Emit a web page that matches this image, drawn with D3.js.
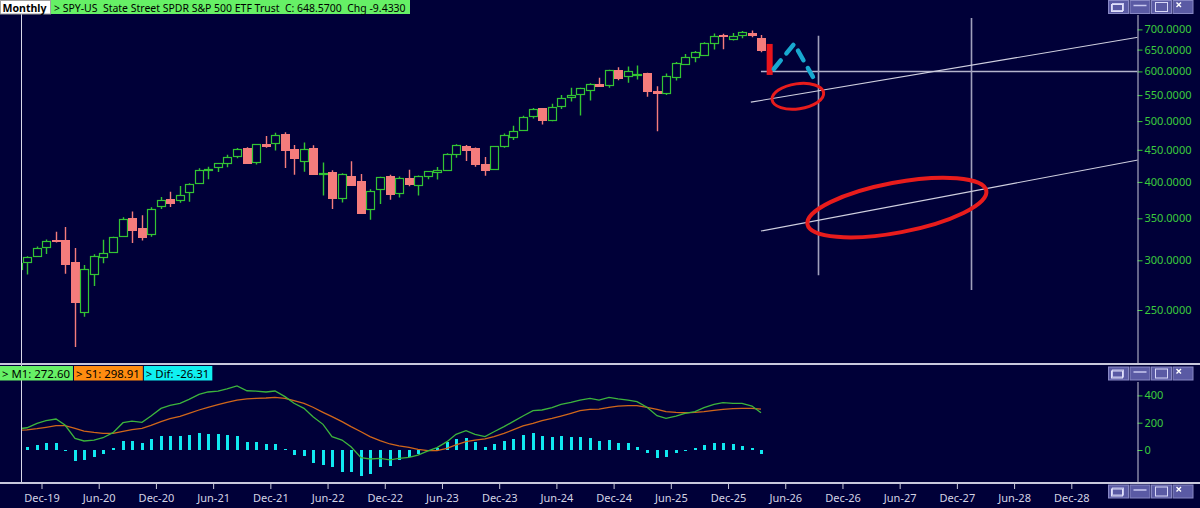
<!DOCTYPE html>
<html><head><meta charset="utf-8">
<script src="https://cdn.jsdelivr.net/npm/d3@7"></script>
<style>html,body{margin:0;padding:0;background:#000038;overflow:hidden} text{white-space:pre}</style>
</head><body><svg id="c" width="1200" height="508"></svg>
<script>
// ---------------- DATA ----------------
const months = ["2019-09","2019-10","2019-11","2019-12",
"2020-01","2020-02","2020-03","2020-04","2020-05","2020-06","2020-07","2020-08","2020-09","2020-10","2020-11","2020-12",
"2021-01","2021-02","2021-03","2021-04","2021-05","2021-06","2021-07","2021-08","2021-09","2021-10","2021-11","2021-12",
"2022-01","2022-02","2022-03","2022-04","2022-05","2022-06","2022-07","2022-08","2022-09","2022-10","2022-11","2022-12",
"2023-01","2023-02","2023-03","2023-04","2023-05","2023-06","2023-07","2023-08","2023-09","2023-10","2023-11","2023-12",
"2024-01","2024-02","2024-03","2024-04","2024-05","2024-06","2024-07","2024-08","2024-09","2024-10","2024-11","2024-12",
"2025-01","2025-02","2025-03","2025-04","2025-05","2025-06","2025-07","2025-08","2025-09","2025-10","2025-11","2025-12",
"2026-01","2026-02","2026-03"];
const open  = [290.6,297.7,304.9,314.6, 323.5,323.4,298.2,248.0,285.3,303.6,309.6,328.3,350.4,337.7,330.2,365.6,
 375.3,373.7,385.6,398.4,419.4,422.6,428.9,440.3,452.6,431.0,460.3,461.6,
 476.3,450.7,432.0,453.3,412.1,415.2,376.6,409.2,401.4,361.8,390.1,408.8,
 384.4,405.2,395.4,408.9,415.5,418.1,442.9,456.3,453.2,426.6,419.2,455.8,
 472.2,484.6,509.0,523.8,501.4,529.0,545.6,552.6,560.9,573.4,571.3,603.0,
 589.4,592.7,596.2,557.5,554.6,587.8,617.4,631.7,638.0,667.0,685.7,676.0,
 685.0,691.0,677.5];
const high  = [302.6,304.6,315.5,323.8, 333.0,339.1,313.8,294.9,306.8,323.4,327.2,351.3,358.8,354.0,364.4,378.5,
 385.9,394.2,398.0,420.7,422.8,428.8,441.8,453.1,454.1,459.6,473.5,479.0,
 480.0,458.1,462.1,457.8,429.7,417.4,413.0,431.7,411.7,389.5,407.7,410.5,
 408.2,418.3,409.7,415.9,422.6,444.3,459.4,458.0,453.7,438.1,456.4,477.6,
 491.6,510.1,524.6,524.4,533.1,550.3,565.2,565.0,574.7,586.1,603.4,609.1,
 610.8,613.2,597.3,568.0,595.5,620.9,639.8,646.5,668.0,689.7,689.0,691.0,
 696.0,697.0,685.8];
const low   = [289.3,284.8,304.7,307.1, 320.4,285.5,218.3,243.9,273.0,296.7,309.1,327.7,319.8,322.6,327.2,362.0,
 364.8,370.4,371.9,398.2,404.0,414.7,422.0,436.1,428.8,426.4,453.6,448.9,
 420.8,410.6,415.1,411.2,380.5,362.2,371.0,395.0,357.0,348.1,368.8,374.8,
 377.8,393.6,380.7,403.8,403.7,416.8,437.1,432.0,422.7,409.2,418.7,453.3,
 466.4,483.8,504.9,493.9,499.6,522.6,537.5,510.3,539.4,567.9,565.1,580.9,
 575.4,582.4,546.9,481.8,550.5,580.4,616.7,620.4,637.5,650.0,650.9,672.0,
 677.5,680.0,643.6];
const close = [296.8,303.3,314.3,321.9, 321.7,296.3,257.8,290.5,304.3,308.4,326.5,349.3,334.9,326.5,362.1,373.9,
 370.1,381.4,396.3,417.3,420.0,428.1,438.5,451.6,429.1,459.3,455.6,475.0,
 449.9,436.6,451.6,412.0,412.9,377.3,412.0,395.2,357.2,386.2,407.7,382.4,
 406.5,396.3,409.4,415.9,417.9,443.3,457.8,450.4,427.5,418.2,456.4,475.3,
 482.9,508.1,523.1,502.0,527.4,544.2,550.8,563.7,573.8,568.6,602.6,586.1,
 601.8,594.2,559.4,554.5,589.4,617.9,632.1,645.1,666.2,682.1,683.4,682.0,
 692.7,686.0,648.57];
const m1 = [155,163,195,215,227,183,85,66,73,90,127,200,212,203,249,305,327,342,371,408,425,432,447,469,434,432,425,432,391,342,305,244,188,98,73,24,-56,-66,-61,-73,-61,-54,-37,-7,17,61,115,141,115,98,134,171,208,249,288,293,310,334,349,366,378,366,386,374,366,354,313,251,232,249,269,281,310,334,347,342,342,322,272.6];
const s1 = [145,147,156,166,178,178,159,139,129,122,122,137,149,159,181,208,229,247,269,293,313,332,349,366,374,378,381,386,378,361,342,313,276,244,208,171,134,98,68,44,30,20,5,-5,-5,12,37,61,73,81,98,122,147,176,195,215,232,249,269,288,298,300,313,322,325,325,313,298,281,276,273,276,281,291,298,303,305,305,298.91];
const dif = [10,19.5,36.6,53.7,53.7,3,-78,-73,-54,-29,15,66,66,49,83,105,105,105,110,127,117,115,107,103,61,61,44,44,5,-34,-41,-93,-112,-122,-159,-159,-190,-173,-127,-115,-73,
 -54,-29,-7,12,56,81,85,61,24,42,66,81,110,127,103,98,103,98,93,90,68,73,54,49,24,-20,-56,-49,-24,-5,15,37,49,49,42,29,15,-26.31];
const priceTicks = [250,300,350,400,450,500,550,600,650,700];
const macdTicks = [0,200,400];
const xTickLabels = ["Dec-19","Jun-20","Dec-20","Jun-21","Dec-21","Jun-22","Dec-22","Jun-23","Dec-23","Jun-24","Dec-24","Jun-25","Dec-25","Jun-26","Dec-26","Jun-27","Dec-27","Jun-28","Dec-28"];
const headerPeriod = "Monthly";
const headerText = "> SPY-US  State Street SPDR S&P 500 ETF Trust  C: 648.5700  Chg -9.4330";
const legendItems = [["> M1: 272.60","#66f066"],["> S1: 298.91","#ff8c10"],["> Dif: -26.31","#10f0f0"]];
// drawn annotations (date, price)
const hLines = [{from:"2026-03-15", price:600}];
const vLines = [{date:"2026-09-14", top:684, bottom:284},{date:"2028-01-15", top:730, bottom:269}];
const trendLines = [{d1:"2026-02-12",p1:536,d2:"2029-07-01",p2:680},{d1:"2026-03-15",p1:334,d2:"2029-07-01",p2:433.5}];
const redBars = [{date:"2026-04-12", top:663.6, bottom:592.3}];
const cyanPath = [["2026-04-25",605.4],["2026-06-29",663.6],["2026-08-29",588]];
const ellipses = [{date:"2026-07-11",price:547.7,rx:26,ry:12.5,rot:-8,w:3},{date:"2027-05-23",price:364.1,rx:91,ry:25,rot:-10.7,w:4}];

// ---------------- HELPERS ----------------
const MON = {Jan:0,Feb:1,Mar:2,Apr:3,May:4,Jun:5,Jul:6,Aug:7,Sep:8,Oct:9,Nov:10,Dec:11};
function monthIdx(s){const p=s.split("-").map(Number);const b=(p[0]-2019)*12+(p[1]-1);if(p.length<3)return b+0.5;const dim=new Date(p[0],p[1],0).getDate();return b+(p[2]-1)/dim;}
function labelIdx(l){const [m,y]=l.split("-");return (2000+ +y-2019)*12+MON[m];}
function fitText(sel,target){sel.attr("font-size",12);const w=sel.node().getComputedTextLength();sel.attr("font-size",(12*target/w).toFixed(2));return target;}

const svg = d3.select("#c");
const BG="#000038";
svg.append("rect").attr("width",1200).attr("height",508).attr("fill",BG);

const PL=21.5, PR=1137.5, MT=14, MB=363, ST=365, SB=482;
const x = d3.scaleLinear().domain([11,119]).range([41.5,1071.3]);
const y = d3.scaleLog().domain([250,700]).range([310,29.4]);
const ym = d3.scaleLinear().domain([0,400]).range([450,395.4]);

const defs = svg.append("defs");
defs.append("clipPath").attr("id","cm").append("rect").attr("x",PL).attr("y",MT).attr("width",PR-PL).attr("height",MB-MT);
defs.append("clipPath").attr("id","cs").append("rect").attr("x",PL).attr("y",ST).attr("width",PR-PL).attr("height",SB-ST);

const GREEN="#33c433", RED="#f47c7c";
const gm = svg.append("g").attr("clip-path","url(#cm)");
const cd = months.map((m,i)=>({i,cx:Math.round(x(monthIdx(m))),o:open[i],h:high[i],l:low[i],c:close[i]}));
cd.forEach(d=>{
  const up=d.c>=d.o, col=up?GREEN:RED;
  const top=Math.round(y(Math.max(d.o,d.c))), bot=Math.round(y(Math.min(d.o,d.c)));
  const hy=y(d.h), ly=y(d.l);
  if(up){
    gm.append("line").attr("x1",d.cx+0.5).attr("x2",d.cx+0.5).attr("y1",hy).attr("y2",top).attr("stroke",col).attr("stroke-width",1.4);
    gm.append("line").attr("x1",d.cx+0.5).attr("x2",d.cx+0.5).attr("y1",bot).attr("y2",ly).attr("stroke",col).attr("stroke-width",1.4);
    gm.append("rect").attr("x",d.cx-3.5).attr("y",top+0.5).attr("width",8).attr("height",Math.max(1,bot-top)).attr("fill","none").attr("stroke",col).attr("stroke-width",1.2);
  } else {
    gm.append("line").attr("x1",d.cx+0.5).attr("x2",d.cx+0.5).attr("y1",hy).attr("y2",ly).attr("stroke",col).attr("stroke-width",1.4);
    gm.append("rect").attr("x",d.cx-3.5).attr("y",top+0.5).attr("width",8).attr("height",Math.max(1,bot-top)).attr("fill",col).attr("stroke",col).attr("stroke-width",1);
  }
});

// annotations
const LC="#b4b4cc";
hLines.forEach(h=>gm.append("line").attr("x1",x(monthIdx(h.from))).attr("x2",PR).attr("y1",Math.round(y(h.price))+0.5).attr("y2",Math.round(y(h.price))+0.5).attr("stroke",LC).attr("stroke-width",1.3));
vLines.forEach(v=>gm.append("line").attr("x1",Math.round(x(monthIdx(v.date)))+0.5).attr("x2",Math.round(x(monthIdx(v.date)))+0.5).attr("y1",y(v.top)).attr("y2",y(v.bottom)).attr("stroke","#a0a0bc").attr("stroke-width",1.6));
trendLines.forEach(t=>gm.append("line").attr("x1",x(monthIdx(t.d1))).attr("y1",y(t.p1)).attr("x2",x(monthIdx(t.d2))).attr("y2",y(t.p2)).attr("stroke","#d0d0e0").attr("stroke-width",1.1));
redBars.forEach(r=>gm.append("rect").attr("x",x(monthIdx(r.date))-3).attr("y",y(r.top)).attr("width",6).attr("height",y(r.bottom)-y(r.top)).attr("fill","#e8141c"));
gm.append("path").attr("d",d3.line()(cyanPath.map(p=>[x(monthIdx(p[0])),y(p[1])]))).attr("fill","none").attr("stroke","#18a8d0").attr("stroke-width",4.5).attr("stroke-linecap","round").attr("stroke-linejoin","round").attr("stroke-dasharray","11,9");
ellipses.forEach(e=>{const cx=x(monthIdx(e.date)),cy=y(e.price);
  gm.append("ellipse").attr("cx",cx).attr("cy",cy).attr("rx",e.rx).attr("ry",e.ry).attr("transform",`rotate(${e.rot},${cx},${cy})`).attr("fill","none").attr("stroke","#e81c1c").attr("stroke-width",e.w);});

// MACD panel
const gs = svg.append("g").attr("clip-path","url(#cs)");
const md = months.map((m,i)=>({cx:Math.round(x(monthIdx(m))),m:m1[i],s:s1[i],d:dif[i]}));
md.forEach(d=>{const a=Math.round(ym(Math.max(0,d.d))),b=Math.round(ym(Math.min(0,d.d)));
  gs.append("rect").attr("x",d.cx-1).attr("y",a).attr("width",3).attr("height",Math.max(1,b-a)).attr("fill","#10e8f0");});
gs.append("path").attr("d",d3.line().x(d=>d.cx).y(d=>ym(d.s))(md)).attr("fill","none").attr("stroke","#d0661a").attr("stroke-width",1.3);
gs.append("path").attr("d",d3.line().x(d=>d.cx).y(d=>ym(d.m))(md)).attr("fill","none").attr("stroke","#3cb43c").attr("stroke-width",1.3);

// axes
const FONT="'Noto Sans', 'DejaVu Sans', sans-serif";
const ax = svg.append("g").attr("transform",`translate(${PR},0)`).call(d3.axisRight(y).tickValues(priceTicks).tickFormat(d=>d.toFixed(4)).tickSize(5).tickPadding(2));
ax.select(".domain").remove();
ax.selectAll(".tick line").attr("stroke","#33cc33");
ax.selectAll(".tick text").attr("fill","#3ccc3c").attr("font-family",FONT).attr("font-size",11);
const axm = svg.append("g").attr("transform",`translate(${PR},0)`).call(d3.axisRight(ym).tickValues(macdTicks).tickSize(5).tickPadding(2));
axm.select(".domain").remove();
axm.selectAll(".tick line").attr("stroke","#33cc33");
axm.selectAll(".tick text").attr("fill","#3ccc3c").attr("font-family",FONT).attr("font-size",11);
svg.append("line").attr("x1",PR+0.5).attr("x2",PR+0.5).attr("y1",15).attr("y2",MB).attr("stroke","#c8c8d8");
svg.append("line").attr("x1",PR+0.5).attr("x2",PR+0.5).attr("y1",382).attr("y2",SB).attr("stroke","#c8c8d8");

const axx = svg.append("g").attr("transform",`translate(0,${SB+1})`).call(d3.axisBottom(x).tickValues(xTickLabels.map(labelIdx)).tickFormat((d,i)=>xTickLabels[i]).tickSize(6).tickPadding(5));
axx.select(".domain").remove();
axx.selectAll(".tick line").attr("stroke","#c8c8d8");
axx.selectAll(".tick text").attr("fill","#d4d4e4").attr("font-family",FONT).attr("font-size",11);

// frame lines
svg.append("line").attr("x1",PL).attr("x2",PL).attr("y1",MT).attr("y2",SB).attr("stroke","#d8d8e8");
svg.append("rect").attr("x",0).attr("y",363).attr("width",1200).attr("height",2).attr("fill","#c8c8dc");
svg.append("rect").attr("x",0).attr("y",482).attr("width",1200).attr("height",2).attr("fill","#c8c8dc");

// header
const hg = svg.append("g");
hg.append("rect").attr("x",0.5).attr("y",0.5).attr("width",50).attr("height",13.5).attr("fill","#ffffff").attr("stroke","#a0a0a0");
const pt = hg.append("text").attr("x",2.5).attr("y",12).text(headerPeriod).attr("font-family",FONT).attr("font-weight","bold").attr("fill","#000");
fitText(pt,44);
const hr = hg.append("rect").attr("x",51).attr("y",0).attr("height",14).attr("fill","#66f066");
const ht = hg.append("text").attr("x",54).attr("y",12).text(headerText).attr("font-family",FONT).attr("fill","#000");
hr.attr("width", fitText(ht,352)+7);
let lx=0;
legendItems.forEach(([t,c],i)=>{
  const lg=svg.append("g");
  const r=lg.append("rect").attr("x",lx).attr("y",366).attr("height",14.5).attr("fill",c);
  const tt=lg.append("text").attr("x",lx+2).attr("y",378).text(t).attr("font-family",FONT).attr("fill","#000");
  tt.attr("font-size",11.4);
  const w=tt.node().getComputedTextLength()+5;
  r.attr("width",w);
  lx+=w+1;
});

// window buttons
function buttons(y0){
  const g=svg.append("g").attr("transform",`translate(1108,${y0})`);
  for(let i=0;i<4;i++){
    const bx=i*21.5;
    g.append("rect").attr("x",bx+0.5).attr("y",0.5).attr("width",20).attr("height",13).attr("fill","#5a5aa4").attr("stroke","#8888c4");
    if(i===0){g.append("rect").attr("x",bx+4.5).attr("y",3.5).attr("width",11).attr("height",7).attr("fill","none").attr("stroke","#c8c8f0");
               g.append("rect").attr("x",bx+3.5).attr("y",4.5).attr("width",11).attr("height",7).attr("fill","none").attr("stroke","#e0e0f8");}
    if(i===1){g.append("line").attr("x1",bx+4).attr("x2",bx+17).attr("y1",5.5).attr("y2",5.5).attr("stroke","#c8c8f0").attr("stroke-width",1.5);}
    if(i===2){g.append("rect").attr("x",bx+4.5).attr("y",2.5).attr("width",12).attr("height",9).attr("fill","none").attr("stroke","#d8d8f8");}
    if(i===3){g.append("path").attr("d",`M${bx+4},2.5L${bx+8.5},7M${bx+8.5},2.5L${bx+4},7`).attr("stroke","#ffffff").attr("stroke-width",1.4);}
  }
}
buttons(0); buttons(366.5); buttons(484.5);
</script></body></html>
